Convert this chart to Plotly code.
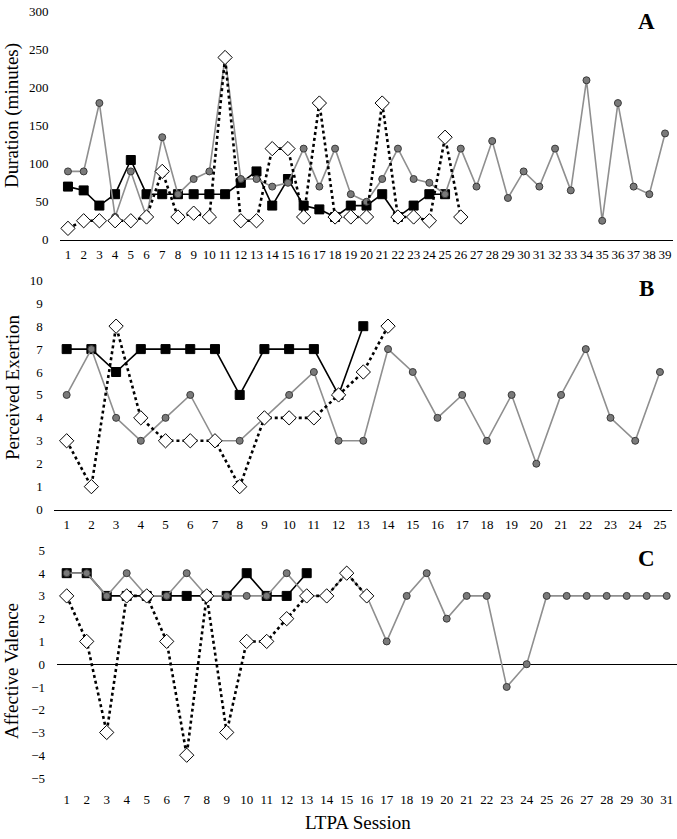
import plotly.graph_objects as go

W, H = 677, 839
FONT = "Liberation Serif"

# ---------------- Data ----------------
# Panel A: Duration (minutes)
a_sq_x = list(range(1, 26))
a_sq_y = [70, 65, 45, 60, 105, 60, 60, 60, 60, 60, 60, 75, 90, 45, 80, 45, 40, 30, 45, 45, 60, 30, 45, 60, 60]
a_di_x = list(range(1, 27))
a_di_y = [15, 25, 25, 25, 25, 30, 90, 30, 35, 30, 240, 25, 25, 120, 120, 30, 180, 30, 30, 30, 180, 30, 30, 25, 135, 30]
a_ci_x = list(range(1, 40))
a_ci_y = [90, 90, 180, 30, 90, 30, 135, 60, 80, 90, 240, 80, 80, 70, 75, 120, 70, 120, 60, 50,
          80, 120, 80, 75, 60, 120, 70, 130, 55, 90, 70, 120, 65, 210, 25, 180, 70, 60, 140]

# Panel B: Perceived Exertion
b_sq_x = list(range(1, 14))
b_sq_y = [7, 7, 6, 7, 7, 7, 7, 5, 7, 7, 7, 5, 8]
b_di_x = list(range(1, 15))
b_di_y = [3, 1, 8, 4, 3, 3, 3, 1, 4, 4, 4, 5, 6, 8]
b_ci_x = list(range(1, 26))
b_ci_y = [5, 7, 4, 3, 4, 5, 3, 3, 4, 5, 6, 3, 3, 7, 6, 4, 5, 3, 5, 2, 5, 7, 4, 3, 6]

# Panel C: Affective Valence
c_sq_x = list(range(1, 14))
c_sq_y = [4, 4, 3, 3, 3, 3, 3, 3, 3, 4, 3, 3, 4]
c_di_x = list(range(1, 17))
c_di_y = [3, 1, -3, 3, 3, 1, -4, 3, -3, 1, 1, 2, 3, 3, 4, 3]
c_ci_x = list(range(1, 32))
c_ci_y = [4, 4, 3, 4, 3, 3, 4, 3, 3, 3, 3, 4, 3, 3, 4, 3, 1, 3, 4, 2, 3, 3, -1, 0, 3, 3, 3, 3, 3, 3, 3]

a_ticks = list(range(1, 40))
b_ticks = list(range(1, 26))
c_ticks = list(range(1, 32))

# ---------------- Styles ----------------
GRAY_LINE = "#8f8f8f"
GRAY_FILL = "#7a7a7a"
GRAY_EDGE = "#3a3a3a"


def add_panel(fig, xa, ya, sq_x, sq_y, di_x, di_y, ci_x, ci_y):
    fig.add_trace(go.Scatter(
        x=sq_x, y=sq_y, mode="lines+markers", xaxis=xa, yaxis=ya,
        line=dict(color="black", width=1.6),
        marker=dict(symbol="square", size=9, color="black", line=dict(color="black", width=1)),
        showlegend=False, hoverinfo="skip"))
    fig.add_trace(go.Scatter(
        x=ci_x, y=ci_y, mode="lines+markers", xaxis=xa, yaxis=ya,
        line=dict(color=GRAY_LINE, width=1.6),
        marker=dict(symbol="circle", size=7, color=GRAY_FILL, line=dict(color=GRAY_EDGE, width=1)),
        showlegend=False, hoverinfo="skip"))
    fig.add_trace(go.Scatter(
        x=di_x, y=di_y, mode="lines+markers", xaxis=xa, yaxis=ya,
        line=dict(color="black", width=2.6, dash="dot"),
        marker=dict(symbol="diamond", size=11, color="white", line=dict(color="black", width=1)),
        showlegend=False, hoverinfo="skip"))


fig = go.Figure()
add_panel(fig, "x", "y", a_sq_x, a_sq_y, a_di_x, a_di_y, a_ci_x, a_ci_y)
add_panel(fig, "x2", "y2", b_sq_x, b_sq_y, b_di_x, b_di_y, b_ci_x, b_ci_y)
add_panel(fig, "x3", "y3", c_sq_x, c_sq_y, c_di_x, c_di_y, c_ci_x, c_ci_y)

tickfont = dict(family=FONT, size=13, color="black")


def xax(domain, rng, ticks, showline, tlen):
    return dict(domain=domain, range=rng, tickvals=ticks, ticktext=[str(t) for t in ticks],
                showgrid=False, zeroline=False, showline=showline, linecolor="black", linewidth=1,
                ticks="outside", ticklen=tlen, tickcolor="rgba(0,0,0,0)", tickfont=tickfont,
                fixedrange=True)


def yax(domain, rng, dtick, anchor, zeroline=False):
    return dict(domain=domain, range=rng, dtick=dtick, tick0=rng[0], anchor=anchor,
                showgrid=False, zeroline=zeroline, zerolinecolor="black", zerolinewidth=1,
                showline=False, ticks="outside", ticklen=8, tickcolor="rgba(0,0,0,0)",
                tickfont=tickfont, fixedrange=True)


fig.update_layout(
    width=W, height=H, autosize=False,
    margin=dict(l=0, r=0, t=0, b=0),
    paper_bgcolor="white", plot_bgcolor="white",
    xaxis=dict(xax([60.1 / W, 672.9 / W], [0.5, 39.5], a_ticks, True, 3), anchor="y"),
    yaxis=yax([1 - 237 / H, 1 - 5 / H], [0, 300], 50, "x"),
    xaxis2=dict(xax([54.3 / W, 672.3 / W], [0.5, 25.5], b_ticks, True, 3), anchor="y2"),
    yaxis2=yax([1 - 511.7 / H, 1 - 278.3 / H], [0, 10], 1, "x2"),
    xaxis3=dict(xax([56.7 / W, 676.7 / W], [0.5, 31.5], c_ticks, False, 9), anchor="y3"),
    yaxis3=yax([1 - 785 / H, 1 - 553.3 / H], [-5, 5], 1, "x3", zeroline=True),
)

title_font = dict(family=FONT, size=19, color="black")
letter_font = dict(family=FONT, size=23, color="black")

annos = [
    dict(text="Duration (minutes)", x=12 / W, y=1 - 111 / H, textangle=-90, font=title_font),
    dict(text="Perceived Exertion", x=12 / W, y=1 - 387 / H, textangle=-90, font=title_font),
    dict(text="Affective Valence", x=12 / W, y=1 - 676 / H, textangle=-90, font=title_font),
    dict(text="LTPA Session", x=358 / W, y=1 - 830 / H, font=title_font),
    dict(text="<b>A</b>", x=646 / W, y=1 - 15 / H, font=letter_font),
    dict(text="<b>B</b>", x=646 / W, y=1 - 287 / H, font=letter_font),
    dict(text="<b>C</b>", x=646 / W, y=1 - 562 / H, font=letter_font),
]
for a in annos:
    a.update(xref="paper", yref="paper", showarrow=False, xanchor="center", yanchor="middle")
fig.update_layout(annotations=annos)

fig.write_html("out.html", config={"displayModeBar": False})
